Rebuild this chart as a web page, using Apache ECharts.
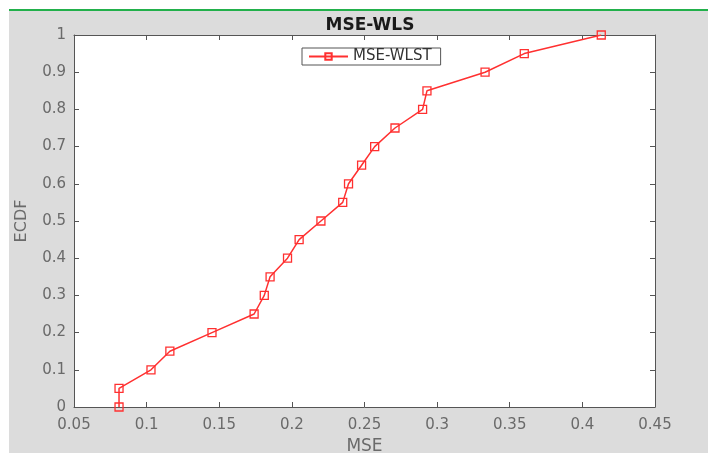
<!DOCTYPE html>
<html>
<head>
<meta charset="utf-8">
<script src="https://cdn.jsdelivr.net/npm/echarts@6/dist/echarts.min.js"></script>
<style>
  html, body { margin: 0; padding: 0; background: #ffffff; }
  #chart { width: 708px; height: 453px; }
</style>
</head>
<body>
<div id="chart"></div>
<script>
// ---- data ----
const chartTitle = 'MSE-WLS';
const seriesName = 'MSE-WLST';
const xAxisName = 'MSE';
const yAxisName = 'ECDF';
const mseValues  = [0.081, 0.081, 0.103, 0.116, 0.145, 0.174, 0.181, 0.185, 0.197, 0.205, 0.220,
                    0.235, 0.239, 0.248, 0.257, 0.271, 0.290, 0.293, 0.333, 0.360, 0.413];
const ecdfValues = [0, 0.05, 0.10, 0.15, 0.20, 0.25, 0.30, 0.35, 0.40, 0.45, 0.50,
                    0.55, 0.60, 0.65, 0.70, 0.75, 0.80, 0.85, 0.90, 0.95, 1.00];
const xTicks = [0.05, 0.1, 0.15, 0.2, 0.25, 0.3, 0.35, 0.4, 0.45];
const yTicks = [0, 0.1, 0.2, 0.3, 0.4, 0.5, 0.6, 0.7, 0.8, 0.9, 1];

const points = mseValues.map((x, i) => [x, ecdfValues[i]]);

const FONT = '"DejaVu Sans", Verdana, sans-serif';
const AXIS_COLOR = '#555555';
const LABEL_COLOR = '#6a6a6a';

const fmt = v => String(parseFloat(v.toFixed(2)));

const chart = echarts.init(document.getElementById('chart'), null, { renderer: 'canvas' });

const baseX = {
  type: 'value',
  min: xTicks[0], max: xTicks[xTicks.length - 1], interval: 0.05,
  splitLine: { show: false },
  axisLine: { show: true, onZero: false, lineStyle: { color: AXIS_COLOR, width: 1 } },
  axisTick: { show: true, inside: true, length: 5, lineStyle: { color: AXIS_COLOR } }
};
const baseY = {
  type: 'value',
  min: yTicks[0], max: yTicks[yTicks.length - 1], interval: 0.1,
  splitLine: { show: false },
  axisLine: { show: true, onZero: false, lineStyle: { color: AXIS_COLOR, width: 1 } },
  axisTick: { show: true, inside: true, length: 5, lineStyle: { color: AXIS_COLOR } }
};

chart.setOption({
  animation: false,
  backgroundColor: '#ffffff',
  textStyle: { fontFamily: FONT },
  graphic: [
    { type: 'rect', z: -10, shape: { x: 9, y: 10, width: 699, height: 443 }, style: { fill: '#dcdcdc' } },
    { type: 'line', z: -9, shape: { x1: 9, y1: 10, x2: 708, y2: 10 }, style: { stroke: '#22b04b', lineWidth: 2 } }
  ],
  title: {
    text: chartTitle,
    left: 365, top: 12, textAlign: 'center',
    textStyle: { fontFamily: FONT, fontSize: 17, fontWeight: 'bold', color: '#1a1a1a' }
  },
  legend: {
    show: true,
    left: 302, top: 48,
    orient: 'horizontal',
    backgroundColor: '#ffffff',
    borderColor: '#555555', borderWidth: 1, borderRadius: 0,
    padding: [1, 9, 1, 6],
    itemWidth: 39, itemHeight: 8, itemGap: 4,
    textStyle: { fontFamily: FONT, fontSize: 15, color: '#333333' },
    data: [{ name: seriesName }]
  },
  grid: {
    left: 74, top: 35, right: 53, bottom: 46,
    show: true, backgroundColor: '#ffffff', borderWidth: 0,
    containLabel: false,
    outerBoundsMode: 'none'
  },
  xAxis: [
    Object.assign({}, baseX, {
      position: 'bottom',
      name: xAxisName, nameLocation: 'middle', nameGap: 29,
      nameTextStyle: { fontFamily: FONT, fontSize: 17, color: LABEL_COLOR },
      axisLabel: { show: true, margin: 11, fontFamily: FONT, fontSize: 15, color: LABEL_COLOR, formatter: fmt }
    }),
    Object.assign({}, baseX, {
      position: 'top',
      axisLabel: { show: false }
    })
  ],
  yAxis: [
    Object.assign({}, baseY, {
      position: 'left',
      name: yAxisName, nameLocation: 'middle', nameGap: 44,
      nameTextStyle: { fontFamily: FONT, fontSize: 16, color: LABEL_COLOR },
      axisLabel: { show: true, margin: 8, fontFamily: FONT, fontSize: 15, color: LABEL_COLOR, formatter: fmt }
    }),
    Object.assign({}, baseY, {
      position: 'right',
      axisLabel: { show: false }
    })
  ],
  series: [{
    name: seriesName,
    type: 'line',
    xAxisIndex: 0, yAxisIndex: 0,
    data: points,
    symbol: 'rect',
    symbolSize: 8,
    showAllSymbol: true,
    lineStyle: { color: '#ff3030', width: 1.5 },
    itemStyle: { color: 'rgba(255,255,255,0)', borderColor: '#ff3030', borderWidth: 1.3 },
    emphasis: { disabled: true }
  }]
});
</script>
</body>
</html>
